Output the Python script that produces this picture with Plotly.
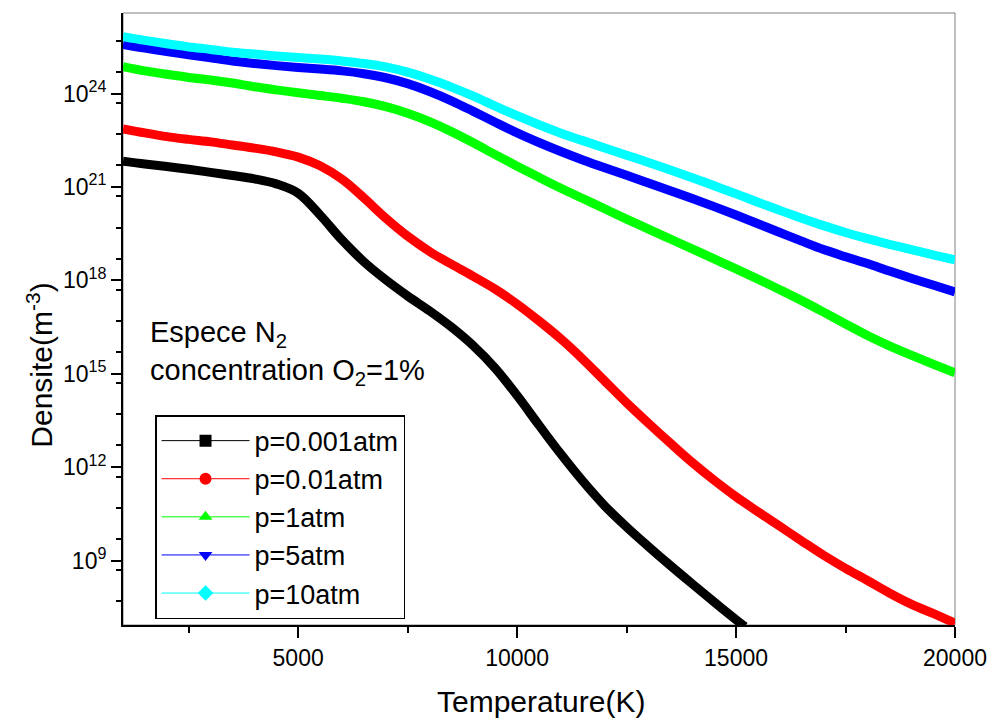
import plotly.graph_objects as go

# Temperature grid (K)
temp = [1000, 1500, 2000, 2500, 3000, 3500, 4000, 4500, 5000, 5500,
        6000, 6500, 7000, 7500, 8000, 8500, 9000, 9500, 10000, 10500,
        11000, 11500, 12000, 12500, 13000, 13500, 14000, 14500, 15000, 15500,
        16000, 16500, 17000, 17500, 18000, 18500, 19000, 19500, 20000]

temp_p0001 = [1000, 1500, 2000, 2500, 3000, 3500, 4000, 4500, 5000, 5500,
              6000, 6500, 7000, 7500, 8000, 8500, 9000, 9500, 10000, 10500,
              11000, 11500, 12000, 12500, 13000, 13500, 14000, 14500, 15000, 15200]

# log10 of N2 density (m^-3)
log_p0001 = [21.83, 21.74, 21.66, 21.57, 21.47, 21.37, 21.26, 21.1, 20.8, 20.1,
             19.3, 18.6, 18.02, 17.5, 17.02, 16.5, 15.9, 15.18, 14.3, 13.35,
             12.42, 11.55, 10.76, 10.08, 9.45, 8.84, 8.25, 7.67, 7.1, 6.88]
log_p001 = [22.87, 22.74, 22.62, 22.53, 22.45, 22.35, 22.25, 22.13, 21.96, 21.68,
            21.25, 20.65, 20.0, 19.42, 18.93, 18.52, 18.13, 17.72, 17.24, 16.7,
            16.12, 15.47, 14.77, 14.07, 13.41, 12.77, 12.15, 11.58, 11.05, 10.57,
            10.1, 9.63, 9.17, 8.75, 8.36, 7.96, 7.6, 7.3, 6.99]
log_p1 = [24.87, 24.73, 24.62, 24.52, 24.44, 24.34, 24.22, 24.12, 24.03, 23.94,
          23.85, 23.74, 23.58, 23.37, 23.1, 22.78, 22.42, 22.04, 21.67, 21.31,
          20.96, 20.63, 20.3, 19.97, 19.65, 19.33, 19.01, 18.69, 18.37, 18.04,
          17.7, 17.35, 16.98, 16.6, 16.23, 15.9, 15.6, 15.31, 15.03]
log_p5 = [25.58, 25.46, 25.35, 25.25, 25.15, 25.05, 24.97, 24.9, 24.84, 24.79,
          24.73, 24.64, 24.51, 24.32, 24.07, 23.77, 23.43, 23.08, 22.74, 22.43,
          22.14, 21.87, 21.62, 21.38, 21.13, 20.88, 20.63, 20.37, 20.1, 19.82,
          19.54, 19.26, 18.99, 18.76, 18.54, 18.3, 18.07, 17.85, 17.63]
log_p10 = [25.83, 25.71, 25.6, 25.5, 25.42, 25.33, 25.27, 25.21, 25.16, 25.11,
           25.05, 24.97, 24.86, 24.69, 24.47, 24.21, 23.92, 23.6, 23.29, 23.0,
           22.73, 22.49, 22.25, 22.02, 21.79, 21.55, 21.3, 21.04, 20.78, 20.51,
           20.25, 20.0, 19.76, 19.54, 19.34, 19.16, 18.99, 18.82, 18.66]

names = ["p=0.001atm", "p=0.01atm", "p=1atm", "p=5atm", "p=10atm"]
colors = ["#000000", "#FF0000", "#00FF00", "#0000FF", "#00FFFF"]
symbols = ["square", "circle", "triangle-up", "triangle-down", "diamond"]
xs = [temp_p0001, temp, temp, temp, temp]
logs = [log_p0001, log_p001, log_p1, log_p5, log_p10]

# ticks
x_major = [5000, 10000, 15000, 20000]
x_minor = [2500, 7500, 12500, 17500]
decade_exp = list(range(7, 27))
labeled_exp = [9, 12, 15, 18, 21, 24]
half_exp = list(range(6, 27))

FONT = "Liberation Sans, Arial, sans-serif"
YRANGE = [6.93, 26.59]

fig = go.Figure()
for x, lg, c in zip(xs, logs, colors):
    fig.add_trace(go.Scatter(
        x=x, y=[10.0 ** v for v in lg], mode="lines",
        line=dict(color=c, width=9, shape="spline", smoothing=1.0),
        showlegend=False, hoverinfo="skip"))
for n, c, s in zip(names, colors, symbols):
    fig.add_trace(go.Scatter(
        x=[None], y=[None], mode="lines+markers", name=n,
        line=dict(color=c, width=1), marker=dict(symbol=s, color=c, size=12)))

fig.update_layout(
    width=994, height=723,
    margin=dict(l=123, r=39, t=13, b=98),
    paper_bgcolor="white", plot_bgcolor="white",
    font=dict(family=FONT, color="black", size=23),
    showlegend=True,
    legend=dict(x=0.0385, y=0.343, xanchor="left", yanchor="top",
                bgcolor="white", bordercolor="black", borderwidth=1.5,
                font=dict(size=27, family=FONT), itemwidth=88,
                tracegroupgap=0),
    shapes=[dict(type="rect", xref="paper", yref="paper", x0=0, y0=0, x1=1, y1=1,
                 line=dict(color="#808080", width=1), layer="below")],
    annotations=[
        dict(xref="paper", yref="paper", x=0.030, y=0.444,
             xanchor="left", yanchor="middle", align="left", showarrow=False,
             text="Espece N<sub>2</sub><br>concentration O<sub>2</sub>=1%",
             font=dict(size=29, family=FONT)),
        dict(xref="paper", yref="paper", x=0.502, y=-0.125,
             xanchor="center", yanchor="middle", showarrow=False,
             text="Temperature(K)", font=dict(size=30, family=FONT)),
        dict(xref="paper", yref="paper", x=-0.100, y=0.425,
             xanchor="center", yanchor="middle", showarrow=False, textangle=-90,
             text="Densite(m<sup>-3</sup>)", font=dict(size=30, family=FONT)),
    ],
    xaxis=dict(
        range=[1000, 20000], showgrid=False, zeroline=False, automargin=False,
        showline=True, linecolor="black", linewidth=2,
        ticks="outside", ticklen=11, tickwidth=2, tickcolor="black",
        tickvals=x_major, ticktext=[str(v) for v in x_major],
        minor=dict(tickvals=x_minor, ticks="outside",
                   ticklen=6, tickwidth=2, tickcolor="black"),
    ),
    yaxis=dict(
        type="log", range=YRANGE, showgrid=False, zeroline=False, automargin=False,
        showline=True, linecolor="black", linewidth=2,
        ticks="outside", ticklen=10, tickwidth=2, tickcolor="black",
        tickvals=[10.0 ** e for e in labeled_exp],
        ticktext=["10<sup>%d</sup>" % e for e in labeled_exp],
        minor=dict(tickvals=[5.0 * 10.0 ** (e - 1) for e in half_exp], ticks="outside",
                   ticklen=5, tickwidth=2, tickcolor="black"),
    ),
    yaxis2=dict(type="log", range=YRANGE, overlaying="y", side="left",
                anchor="x", showgrid=False, zeroline=False, showline=False,
                ticks="outside", ticklen=10, tickwidth=2, tickcolor="black",
                tickvals=[10.0 ** e for e in decade_exp], showticklabels=False),
)

fig.write_html("out.html", config={"displayModeBar": False},
               post_script="document.body.style.margin='0';")
